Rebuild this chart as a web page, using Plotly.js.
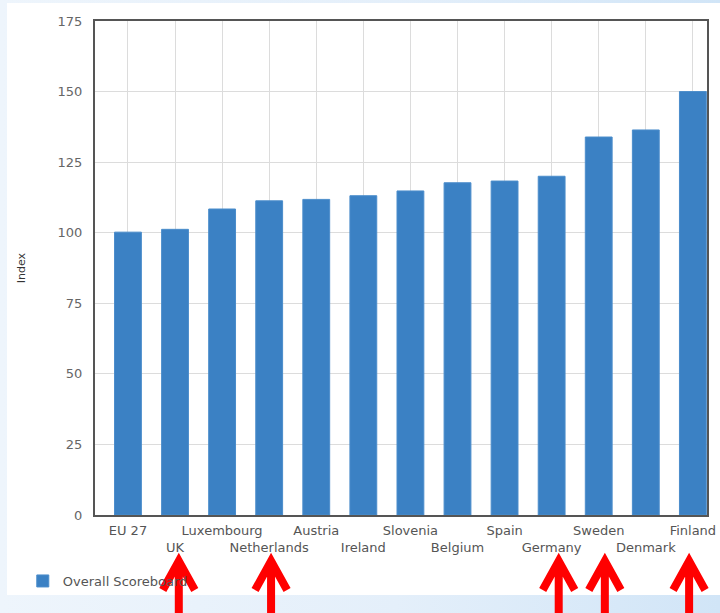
<!DOCTYPE html>
<html>
<head>
<meta charset="utf-8">
<script src="https://cdn.plot.ly/plotly-3.0.1.min.js"></script>
<style>
  html, body { margin: 0; padding: 0; }
  #wrap { position: relative; width: 720px; height: 613px; overflow: hidden;
          background: linear-gradient(to right, #eef5fc 0%, #e4effa 55%, #d1e5f7 100%); }
  #panel { position: absolute; left: 7px; top: 3px; width: 713px; height: 592px; background: #ffffff; }
  #chart { position: absolute; left: 0; top: 0; width: 720px; height: 613px; }
</style>
</head>
<body>
<div id="wrap">
  <div id="panel"></div>
  <div id="chart"></div>
</div>
<script>
// ---- data ----
const countries = ["EU 27", "UK", "Luxembourg", "Netherlands", "Austria", "Ireland",
                   "Slovenia", "Belgium", "Spain", "Germany", "Sweden", "Denmark", "Finland"];
const overallScore = [100.2, 101.2, 108.4, 111.3, 111.8, 113.1, 114.8, 117.7, 118.3, 120.0, 133.9, 136.4, 150.0];
const seriesName = "Overall Scoreboard";
const yTickValues = [0, 25, 50, 75, 100, 125, 150, 175];
const highlighted = ["UK", "Netherlands", "Germany", "Sweden", "Finland"];

// ---- layout helpers ----
const xRange = [-0.7, 12.3];
const nudge = {"UK": 0.08, "Netherlands": 0.04, "Germany": 0.15, "Sweden": 0.13, "Finland": -0.08};
const ticktext = countries.map((c, i) => (i % 2 === 1 ? "<br>" + c : c));

const plotH = 494, plotW = 612;
const toPaperY = px => (515 - px) / plotH;
const arrowShapes = highlighted.map(name => {
  const idx = countries.indexOf(name) + (nudge[name] || 0);
  const x = (idx - xRange[0]) / (xRange[1] - xRange[0]);
  const dx = 16 / plotW;
  const yTip = toPaperY(561), yArm = toPaperY(590), yEnd = toPaperY(630);
  return {
    type: "path", xref: "paper", yref: "paper", layer: "above",
    path: `M ${x} ${yEnd} L ${x} ${yTip} M ${x - dx} ${yArm} L ${x} ${yTip} L ${x + dx} ${yArm}`,
    line: {color: "#ff0000", width: 8}
  };
});

const trace = {
  type: "bar",
  x: countries,
  y: overallScore,
  name: seriesName,
  width: 0.57,
  marker: {color: "#3b81c4", line: {color: "#4b8dcb", width: 1}},
  showlegend: true,
  hoverinfo: "x+y"
};

const layout = {
  width: 720, height: 613,
  margin: {l: 95, r: 13, t: 21, b: 98},
  paper_bgcolor: "rgba(0,0,0,0)",
  plot_bgcolor: "#ffffff",
  font: {family: "DejaVu Sans, Liberation Sans, Arial, sans-serif", size: 13, color: "#555"},
  showlegend: true,
  legend: {
    orientation: "h", x: -0.118, y: toPaperY(566), xanchor: "left", yanchor: "top",
    font: {size: 13, color: "#555"}, bgcolor: "rgba(0,0,0,0)"
  },
  xaxis: {
    type: "category",
    range: xRange,
    tickmode: "array",
    tickvals: countries,
    ticktext: ticktext,
    tickangle: 0,
    showgrid: true, gridcolor: "#dcdcdc", gridwidth: 1,
    showline: true, linecolor: "#555", linewidth: 2, mirror: true,
    ticks: "", ticklabelstandoff: 2,
    tickfont: {size: 13, color: "#555"},
    fixedrange: true
  },
  yaxis: {
    range: [0, 175],
    tickmode: "array",
    tickvals: yTickValues,
    showgrid: true, gridcolor: "#dcdcdc", gridwidth: 1,
    zeroline: false,
    showline: true, linecolor: "#555", linewidth: 2, mirror: true,
    ticks: "", ticklabelstandoff: 8,
    tickfont: {size: 13, color: "#666"},
    title: {text: "Index", font: {size: 11, color: "#333"}, standoff: 30},
    fixedrange: true
  },
  bargap: 0.43,
  shapes: arrowShapes
};

Plotly.newPlot("chart", [trace], layout, {displayModeBar: false, staticPlot: false});
</script>
</body>
</html>
